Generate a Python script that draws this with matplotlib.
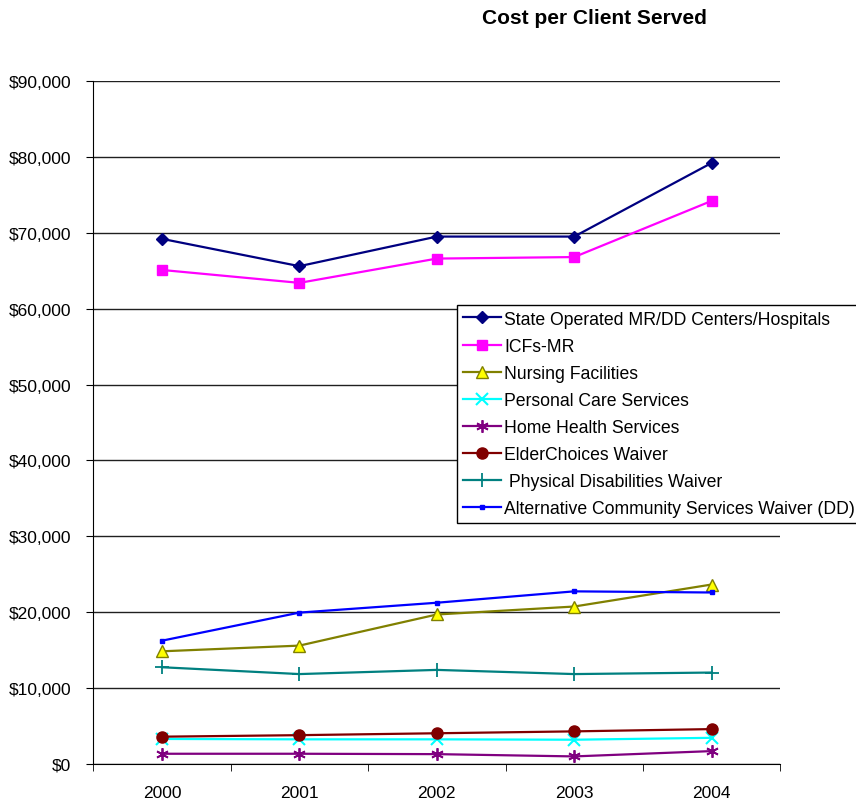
import matplotlib
matplotlib.use('Agg')
import matplotlib.pyplot as plt
from matplotlib.ticker import FuncFormatter, FixedLocator
import numpy as np

plt.rcParams['font.family'] = ['Liberation Sans', 'DejaVu Sans']

years = ['2000', '2001', '2002', '2003', '2004']

state_operated = [69200, 65600, 69500, 69500, 79200]
icfs_mr = [65100, 63400, 66600, 66800, 74200]
nursing = [14850, 15600, 19700, 20750, 23650]
personal_care = [3300, 3250, 3250, 3200, 3450]
home_health = [1350, 1350, 1300, 1000, 1700]
elder_choices = [3600, 3800, 4050, 4300, 4600]
physical_dis = [12750, 11850, 12400, 11850, 12050]
alt_community = [16250, 19950, 21250, 22750, 22600]

series = [
    ("State Operated MR/DD Centers/Hospitals", state_operated,
     dict(color='#000080', marker='D', ms=6, mfc='#000080', mec='#000080')),
    ("ICFs-MR", icfs_mr,
     dict(color='#FF00FF', marker='s', ms=7, mfc='#FF00FF', mec='#FF00FF')),
    ("Nursing Facilities", nursing,
     dict(color='#808000', marker='^', ms=8, mfc='#FFFF00', mec='#808000')),
    ("Personal Care Services", personal_care,
     dict(color='#00FFFF', marker='x', ms=8, mew=1.5)),
    ("Home Health Services", home_health,
     dict(color='#800080', marker=(6, 2, 0), ms=9, mew=1.3)),
    ("ElderChoices Waiver", elder_choices,
     dict(color='#800000', marker='o', ms=8, mfc='#800000', mec='#800000')),
    (" Physical Disabilities Waiver", physical_dis,
     dict(color='#008080', marker='+', ms=10, mew=1.3)),
    ("Alternative Community Services Waiver (DD)", alt_community,
     dict(color='#0000FF', marker='s', ms=3, mfc='#0000FF', mec='#0000FF')),
]

fig = plt.figure(figsize=(8.56, 8.03), dpi=100)
ax = fig.add_axes([93.3 / 856, 38 / 803, 687 / 856, 683 / 803])

x = np.arange(len(years))
for label, vals, style in series:
    ax.plot(x, vals, lw=1.6, label=label, **style)

ax.set_xlim(-0.5, 4.5)
ax.set_ylim(0, 90000)
ax.yaxis.set_major_locator(FixedLocator(np.arange(0, 90001, 10000)))
ax.yaxis.set_major_formatter(FuncFormatter(lambda v, p: '${:,.0f}'.format(v)))
ax.grid(axis='y', color='#202020', lw=1)
ax.set_axisbelow(True)

ax.set_xticks(x)
ax.set_xticklabels(years)
ax.set_xticks(np.arange(-0.5, 5.0, 1.0), minor=True)
ax.tick_params(axis='x', which='major', length=0, pad=15, labelsize=12.5)
ax.tick_params(axis='x', which='minor', length=5, direction='out')
ax.tick_params(axis='y', length=5, labelsize=12.5, pad=11)

for s in ['top', 'right']:
    ax.spines[s].set_visible(False)
ax.spines['left'].set_color('black')
ax.spines['bottom'].set_color('black')

fig.text(594 / 856, 1 - 18 / 803, 'Cost per Client Served', ha='center', va='center',
         fontsize=15, fontweight='bold')

leg = fig.legend(loc='upper left', bbox_to_anchor=(457 / 856, 1 - 306 / 803),
                 fontsize=12.7, frameon=True, fancybox=False, edgecolor='black',
                 framealpha=1, handlelength=2.15, handletextpad=0.2,
                 labelspacing=0.57, borderpad=0.32, borderaxespad=0)
leg.get_frame().set_linewidth(1)

fig.savefig('out.png', dpi=100)
